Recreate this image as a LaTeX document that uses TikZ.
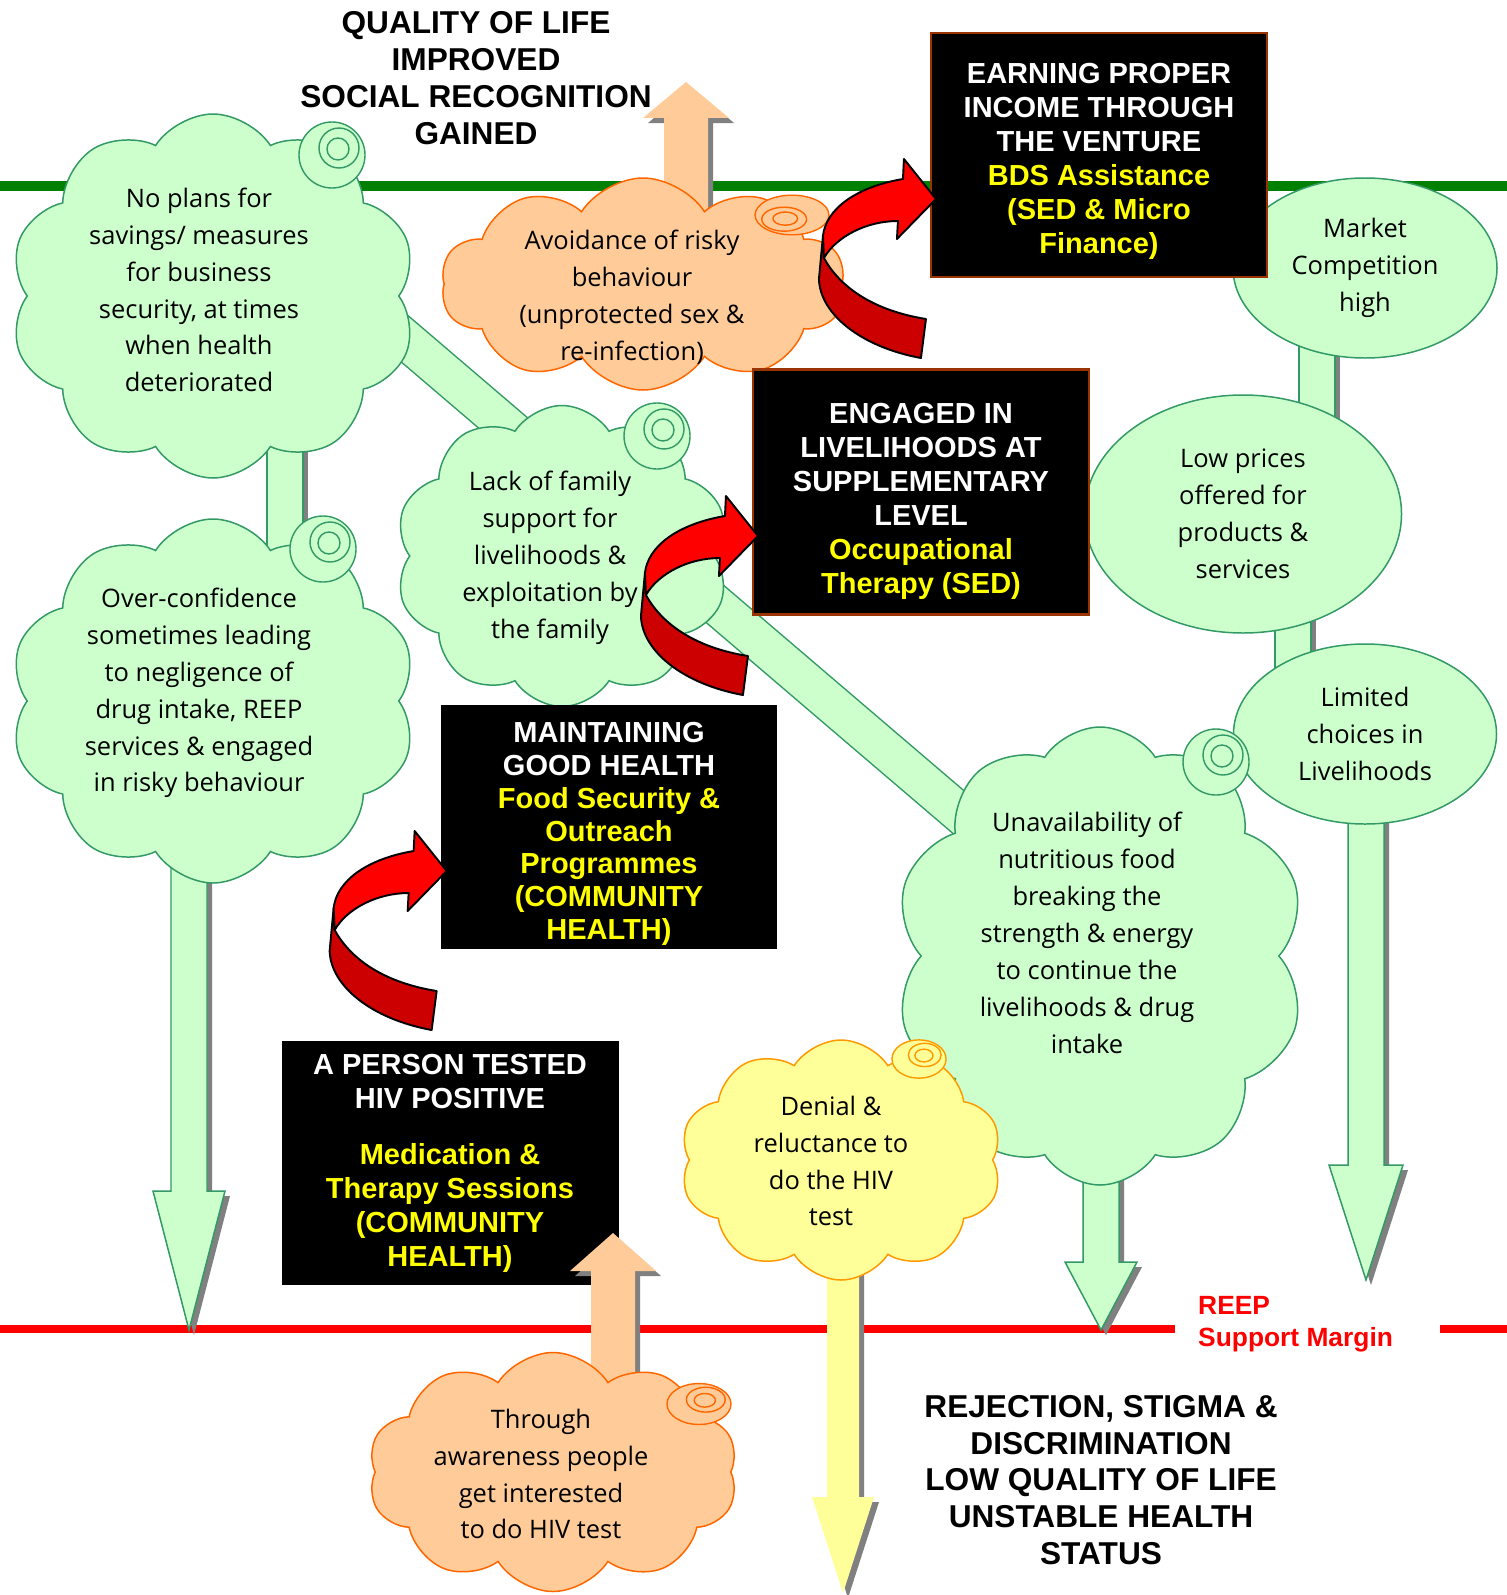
\documentclass[tikz,border=0pt]{standalone}
\usepackage{fontspec}
\setmainfont{Liberation Sans}
\newfontfamily\cloudfam{Open Sans}
\usetikzlibrary{shapes.symbols,shapes.geometric,calc}

\definecolor{gfill}{HTML}{CCFFCC}
\definecolor{gline}{HTML}{339966}
\definecolor{ofill}{HTML}{FFCC99}
\definecolor{oline}{HTML}{FF6600}
\definecolor{yfill}{HTML}{FFFF99}
\definecolor{yline}{HTML}{FF9900}
\definecolor{gmargin}{HTML}{008000}
\definecolor{rmargin}{HTML}{FF0000}
\definecolor{ytext}{HTML}{FFFF00}
\definecolor{boxline}{HTML}{993300}
\definecolor{shadowgray}{HTML}{808080}
\definecolor{twistlight}{HTML}{FF0000}
\definecolor{twistdark}{HTML}{CC0000}

\tikzset{
  greenmargin/.style={draw=gmargin, line width=0.2cm},
  redmargin/.style={draw=rmargin, line width=0.16cm},
  cloudshape/.style={cloud, cloud puffs=10, cloud puff arc=115, cloud ignores aspect,
    line width=0.85pt, inner sep=0pt},
  gcloud/.style={cloudshape, draw=gline, fill=gfill},
  ocloud/.style={cloudshape, draw=oline, fill=ofill},
  ycloud/.style={cloudshape, draw=yline, fill=yfill},
  gcurl/.style={draw=gline, fill=gfill, line width=0.8pt},
  ocurl/.style={draw=oline, fill=ofill, line width=0.8pt},
  ycurl/.style={draw=yline, fill=yfill, line width=0.8pt},
  ctext/.style={align=center, font=\cloudfam\fontsize{14.5}{21}\selectfont},
  gell/.style={ellipse, draw=gline, fill=gfill, line width=0.85pt, inner sep=0pt, ctext},
  blackbox/.style={fill=black, text=white, inner sep=0pt, align=center,
    font=\bfseries\fontsize{16.5}{19.3}\selectfont},
  rimbox/.style={blackbox, draw=boxline, line width=1.2pt},
  boxsize/.style 2 args={minimum width=#1*0.02cm, minimum height=#2*0.02cm},
  heading/.style={align=center, font=\bfseries\fontsize{18}{21}\selectfont},
  reeptext/.style={align=left, text=rmargin, font=\bfseries\fontsize{15}{17.9}\selectfont},
  gbar/.style={draw=gline, line width=0.85pt, double=gfill, double distance=0.69cm},
  barshadow/.style={draw=shadowgray, line width=0.72cm},
  garrow/.style={fill=gfill, draw=gline, line width=0.85pt},
  oarrow/.style={fill=ofill},
  yarrow/.style={fill=yfill},
  arrowshadow/.style={fill=shadowgray},
  twistback/.style={fill=twistdark, draw=black, line width=1.1pt, line join=round},
  twistfront/.style={fill=twistlight, draw=black, line width=1.1pt, line join=round}
}

% yellow line in a black box
\newcommand{\yl}[1]{\textcolor{ytext}{#1}}

% little spiral of a cloud callout
\newcommand{\curl}[3]{%
  \begin{scope}[shift={(#2)}, #3]
    \draw[#1] (0,0) circle (33);
    \draw[#1] (7,-7) circle (20);
    \draw[#1] (6,-6) circle (11);
  \end{scope}}

% block arrow: look, tip, 1 down / -1 up, length, head length, shaft half, head half
\newcommand{\blockarrow}[7]{%
  \fill[arrowshadow, shift={($(#2)+(5,5)$)}, yscale=#3]
    (-#6,-#4) -- (-#6,-#5) -- (-#7,-#5) -- (0,0) -- (#7,-#5) -- (#6,-#5) -- (#6,-#4) -- cycle;
  \path[#1, shift={(#2)}, yscale=#3]
    (-#6,-#4) -- (-#6,-#5) -- (-#7,-#5) -- (0,0) -- (#7,-#5) -- (#6,-#5) -- (#6,-#4) -- cycle;}

% red twisted arrow pointing into a box
\newcommand{\twist}[1]{%
  \begin{scope}[shift={($(#1.west)+(6,44)$)}]
    \draw[twistback] (-113,37) -- (-117,80) .. controls (-116,115) and (-75,148) .. (-15,159)
      -- (-10,120) .. controls (-60,112) and (-95,90) .. (-112,59) -- cycle;
    \draw[twistfront] (-33,-20) .. controls (-80,-12) and (-110,10) .. (-113,37)
      -- (-112,59) .. controls (-100,38) and (-70,22) .. (-38,22)
      -- (-39,40) -- (0,0) -- (-32,-40) -- cycle;
  \end{scope}}

\begin{document}
\begin{tikzpicture}[x=0.02cm, y=-0.02cm]
  \useasboundingbox (0,0) rectangle (1507,1595);

  % margins
  \coordinate (gl1) at (0,186);
  \coordinate (gl2) at (1507,186);
  \draw[greenmargin] (gl1) -- (gl2);
  \coordinate (rl1) at (0,1329);
  \coordinate (rl2) at (1175,1329);
  \coordinate (rl3) at (1440,1329);
  \coordinate (rl4) at (1507,1329);
  \draw[redmargin] (rl1) -- (rl2);
  \draw[redmargin] (rl3) -- (rl4);

  % block arrows
  \coordinate (tipE) at (686,82);
  \coordinate (tipG) at (843,1593);
  \coordinate (tipB) at (189,1330);
  \coordinate (tipJ) at (1366,1280);
  \coordinate (tipD) at (1101,1330);
  \coordinate (tipF) at (613,1233);
  \blockarrow{oarrow}{tipE}{-1}{150}{36}{22}{43}
  \blockarrow{yarrow}{tipG}{1}{365}{96}{16}{31}

  % bars between the problems
  \coordinate (ab1) at (285,400);
  \coordinate (ab2) at (285,580);
  \coordinate (hi1) at (1317,330);
  \coordinate (hi2) at (1317,430);
  \coordinate (ij1) at (1293,600);
  \coordinate (ij2) at (1293,690);
  \coordinate (dg1) at (330,275);
  \coordinate (dg2) at (990,839);
  \draw[barshadow] ([xshift=0.1cm]ab1) -- ([xshift=0.1cm]ab2);
  \draw[gbar] (ab1) -- (ab2);
  \draw[barshadow] ([xshift=0.1cm]hi1) -- ([xshift=0.1cm]hi2);
  \draw[gbar] (hi1) -- (hi2);
  \draw[barshadow] ([xshift=0.1cm]ij1) -- ([xshift=0.1cm]ij2);
  \draw[gbar] (ij1) -- (ij2);
  \draw[gbar, double distance=0.76cm] (dg1) -- (dg2);

  \blockarrow{garrow}{tipB}{1}{530}{139}{18}{36}
  \blockarrow{garrow}{tipJ}{1}{490}{115}{18}{37}
  \blockarrow{garrow}{tipD}{1}{210}{68}{18}{36}

  % market problems
  \node[gell, boxsize={264}{180}] (mch) at (1365,268) {Market\\Competition\\high};
  \node[gell, boxsize={317}{238}] (lpo) at (1243,514) {Low prices\\offered for\\products \&\\services};
  \node[gell, boxsize={263}{180}] (lcl) at (1365,734) {Limited\\choices in\\Livelihoods};

  % clouds
  \node[gcloud, boxsize={407}{364}] (ca) at (213,296) {};
  \curl{gcurl}{332,155}{}
  \node[ctext] (ta) at (199,290) {No plans for\\savings/ measures\\for business\\security, at times\\when health\\deteriorated};

  \node[gcloud, boxsize={334}{301}] (cc) at (562,556) {};
  \curl{gcurl}{657,436}{}
  \node[ctext] (tc) at (550,558) {Lack of family\\support for\\livelihoods \&\\exploitation by\\the family};

  \node[gcloud, boxsize={407}{364}] (cb) at (213,701) {};
  \curl{gcurl}{323,549}{}
  \node[ctext] (tb) at (199,693) {Over-confidence\\sometimes leading\\to negligence of\\drug intake, REEP\\services \& engaged\\in risky behaviour};

  \node[gcloud, boxsize={411}{458}] (cd) at (1100,956) {};
  \curl{gcurl}{1216,762}{}
  \node[ctext] (td) at (1087,933) {Unavailability of\\nutritious food\\breaking the\\strength \& energy\\to continue the\\livelihoods \& drug\\intake};

  \node[ocloud, boxsize={404}{212}] (ce) at (643,284) {};
  \curl{ocurl}{792,215}{xscale=-1.12, yscale=-0.6}
  \node[ctext] (te) at (632,297) {Avoidance of risky\\behaviour\\(unprotected sex \&\\re-infection)};

  \node[ycloud, boxsize={322}{240}] (cg) at (841,1160) {};
  \curl{ycurl}{919,1059}{xscale=0.82, yscale=0.58}
  \node[ctext] (tg) at (831,1161) {Denial \&\\reluctance to\\do the HIV\\test};

  % REEP interventions
  \node[rimbox, boxsize={336}{244}] (bds) at (1099,155) {\rule{0pt}{18.7pt}EARNING PROPER\\INCOME THROUGH\\THE VENTURE\\\yl{BDS Assistance}\\\yl{(SED \& Micro}\\\yl{Finance)}};
  \node[rimbox, boxsize={336}{245}] (occ) at (921,492) {\rule{0pt}{22pt}ENGAGED IN\\LIVELIHOODS AT\\SUPPLEMENTARY\\LEVEL\\\yl{Occupational}\\\yl{Therapy (SED)}};
  \node[blackbox, boxsize={336}{244}, font=\bfseries\fontsize{16.5}{18.7}\selectfont] (mgh) at (609,827) {\rule{0pt}{19.5pt}MAINTAINING\\GOOD HEALTH\\\yl{Food Security \&}\\\yl{Outreach}\\\yl{Programmes}\\\yl{(COMMUNITY}\\\yl{HEALTH)}};
  \node[blackbox, boxsize={337}{244}] (hiv) at (450,1163) {A PERSON TESTED\\HIV POSITIVE\\[0.45cm]\yl{Medication \&}\\\yl{Therapy Sessions}\\\yl{(COMMUNITY}\\\yl{HEALTH)}};

  \blockarrow{oarrow}{tipF}{-1}{160}{38}{22}{43}
  \node[ocloud, boxsize={370}{239}] (cf) at (553,1472) {};
  \curl{ocurl}{699,1404}{xscale=0.97, yscale=0.62}
  \node[ctext] (tf) at (541,1474) {Through\\awareness people\\get interested\\to do HIV test};

  % red twisted arrows
  \twist{bds}
  \twist{occ}
  \twist{mgh}

  % outcomes
  \node[heading] (qol) at (476,78) {QUALITY OF LIFE\\IMPROVED\\SOCIAL RECOGNITION\\GAINED};
  \node[heading] (rsd) at (1101,1480) {REJECTION, STIGMA \&\\DISCRIMINATION\\LOW QUALITY OF LIFE\\UNSTABLE HEALTH\\STATUS};
  \node[reeptext, anchor=west] (reep) at (1192,1324) {REEP\\Support Margin};
\end{tikzpicture}
\end{document}
